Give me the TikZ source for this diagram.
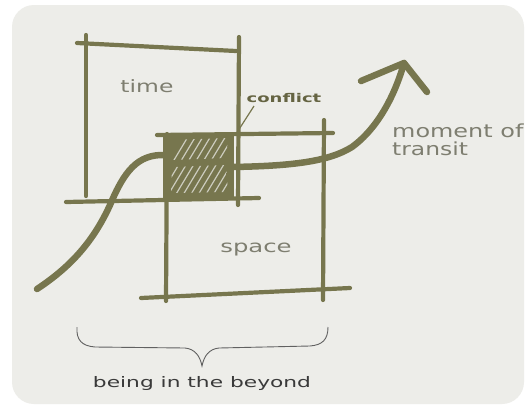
\documentclass[tikz,border=0pt]{standalone}
\usepackage{graphicx}
\usepackage{fontspec}
\setmainfont{DejaVu Sans}
\definecolor{olive}{HTML}{77764E}
\definecolor{bgc}{HTML}{EDEDE9}
\definecolor{txtgray}{HTML}{7E7E70}
\definecolor{darktxt}{HTML}{3A3A3A}
\newcommand{\wide}[2]{\scalebox{#1}[1]{#2}}
\tikzset{
  sketch/.style={draw=olive, line width=4.2pt, line cap=round, line join=round},
  flow/.style={draw=olive, line width=6.5pt, line cap=round, line join=round},
  lbl/.style={text=txtgray, font=\fontsize{17}{19}\selectfont, inner sep=0pt},
  hatchline/.style={draw=bgc!72!olive, line width=1.2pt},
}
\begin{document}
\begin{tikzpicture}[x=1pt,y=-1pt]
\useasboundingbox (0,0) rectangle (528,405);
\fill[white] (0,0) rectangle (528,405);
\fill[bgc, rounded corners=22pt] (12,5) rectangle (524,404);

% time box
\draw[sketch] (77,43) -- (236,51);
\draw[sketch] (86,35) -- (86,196);
\draw[sketch] (239,37) -- (238,205);
\draw[sketch] (66,202) -- (259,198);

% space box
\draw[sketch] (157,135) -- (333,133);
\draw[sketch] (167,134) -- (166,301);
\draw[sketch] (324,120) -- (323,300);
\draw[sketch] (141,298) -- (350,288);

% transit curve
\draw[flow] (37,289) .. controls (72,266) and (94,240) .. (110,205)
  .. controls (124,172) and (137,154) .. (165,155);
\draw[flow] (232,167) .. controls (290,166) and (328,162) .. (352,147)
  .. controls (378,128) and (395,95) .. (404,63);
\draw[flow] (361,81) -- (404,63) -- (427,92);

% conflict square
\fill[olive] (163,133) rectangle (234,198);
\begin{scope}
\clip (171,140) -- (228,138) -- (226,158) -- (172,160) -- cycle
      (172,167) -- (226,165) -- (228,192) -- (171,193) -- cycle;
\foreach \i in {0,...,12} {
  \draw[hatchline] (150+\i*7.5,200) -- (192+\i*7.5,130);
}
\end{scope}

% conflict leader
\draw[olive, line width=1.2pt] (254,106) -- (236,134);

% labels
\node[lbl] (time) at (147,86) {\wide{1.38}{time}};
\node[lbl] (space) at (256,250) {\wide{1.43}{space}};
\node[lbl, font=\fontsize{18}{20}\selectfont, anchor=west] (moment) at (392,131) {\wide{1.33}{moment of}};
\node[lbl, font=\fontsize{18}{20}\selectfont, anchor=west] (transit) at (392,149) {\wide{1.3}{transit}};
\node[text=olive!85!black, font=\bfseries\fontsize{12}{14}\selectfont, inner sep=0pt] (conflict) at (284,98) {\wide{1.5}{conflict}};

% brace
\draw[darktxt!80, line width=0.9pt] (77,327) .. controls (76,340) and (82,346) .. (95,347)
  -- (185,348) .. controls (195,349) and (200,356) .. (202,366)
  .. controls (204,356) and (209,349) .. (219,348)
  -- (310,346) .. controls (322,345) and (328,340) .. (328,327);
\node[text=darktxt, font=\fontsize{14.5}{16}\selectfont, inner sep=0pt] (beyond) at (202,383) {\wide{1.5}{being in the beyond}};
\end{tikzpicture}
\end{document}
